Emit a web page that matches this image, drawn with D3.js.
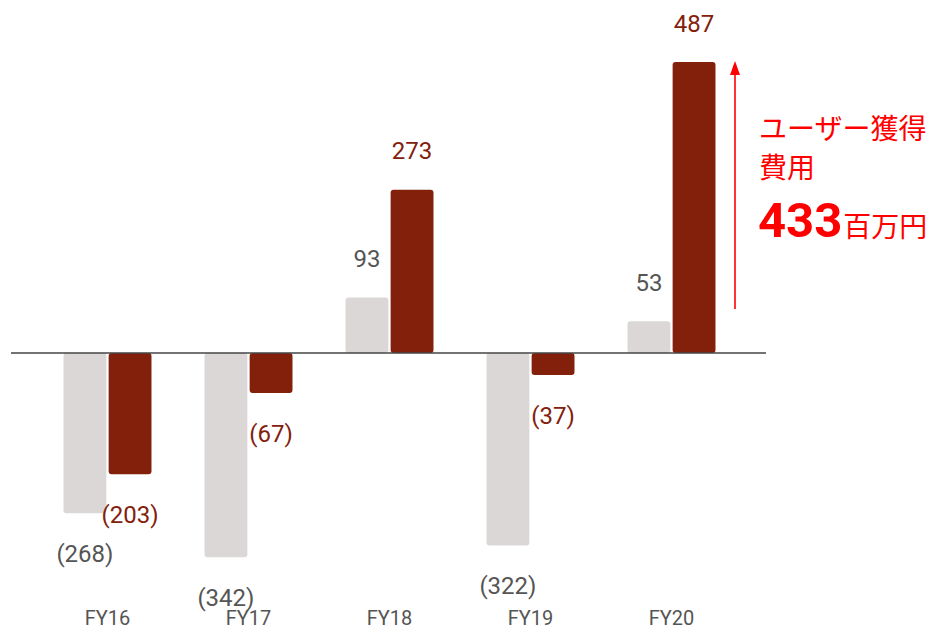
<!DOCTYPE html>
<html><head><meta charset="utf-8">
<script src="https://cdn.jsdelivr.net/npm/d3@7"></script>
<style>html,body{margin:0;padding:0;background:#fff;}</style>
</head><body>
<svg id="c" width="936" height="628"></svg>
<script>
const categories = ["FY16","FY17","FY18","FY19","FY20"];
const seriesGray = [-268,-342,93,-322,53];
const seriesRed = [-203,-67,273,-37,487];
const annotLine1 = "ユーザー獲得";
const annotLine2 = "費用";
const annotValue = "433";
const annotUnit = "百万円";

const svg = d3.select("#c");
const y = d3.scaleLinear().domain([0, 487]).range([353, 62]);
const x = d3.scaleBand().domain(categories).range([37, 742]).paddingInner(0.376).paddingOuter(0.188);
const xs = d3.scaleBand().domain(["g","r"]).range([0, x.bandwidth()]).paddingInner(0.05);

const fmt = v => v < 0 ? "(" + Math.abs(v) + ")" : String(v);
const series = [
  {key:"g", vals: seriesGray, fill:"#dcd7d7", text:"#555555"},
  {key:"r", vals: seriesRed, fill:"#83200c", text:"#83200c"}
];

series.forEach(s => {
  const g = svg.append("g");
  g.selectAll("rect").data(categories).join("rect")
    .attr("x", (c) => x(c) + xs(s.key))
    .attr("width", xs.bandwidth())
    .attr("y", (c,i) => Math.min(y(s.vals[i]), y(0)))
    .attr("height", (c,i) => Math.abs(y(s.vals[i]) - y(0)))
    .attr("rx", 3).attr("fill", s.fill);
  g.selectAll("text").data(categories).join("text")
    .attr("x", (c) => x(c) + xs(s.key) + xs.bandwidth()/2)
    .attr("y", (c,i) => s.vals[i] >= 0 ? y(s.vals[i]) - 39 + 8.5 : y(s.vals[i]) + 40 + 8.5)
    .attr("text-anchor","middle")
    .attr("font-family","Roboto, sans-serif")
    .attr("font-size", 24)
    .attr("fill", s.text)
    .text((c,i) => fmt(s.vals[i]));
});

// baseline
svg.append("line").attr("x1", 11).attr("x2", 766).attr("y1", y(0)).attr("y2", y(0))
  .attr("stroke", "#444").attr("stroke-width", 1.3);

// category labels
const xAxis = d3.axisBottom(x).tickSize(0).tickPadding(0);
const ax = svg.append("g").attr("transform", "translate(0,608)").call(xAxis);
ax.select(".domain").remove();
ax.selectAll("text").attr("font-family","Roboto, sans-serif").attr("font-size",20)
  .attr("fill","#555").attr("dy","0.85em");

// arrow
const ax0 = 735;
svg.append("line").attr("x1", ax0).attr("x2", ax0).attr("y1", 309).attr("y2", 72)
  .attr("stroke", "#ff0000").attr("stroke-width", 1.6);
svg.append("path").attr("d", `M${ax0},61 L${ax0-5},75 L${ax0+5},75 Z`).attr("fill","#ff0000");

const jp = "'Noto Sans CJK JP', 'Noto Sans', sans-serif";
svg.append("text").attr("x", 759).attr("y", 139).attr("font-family", jp).attr("font-size", 28)
  .attr("fill", "#ff0000").text(annotLine1);
svg.append("text").attr("x", 759).attr("y", 178).attr("font-family", jp).attr("font-size", 28)
  .attr("fill", "#ff0000").text(annotLine2);
const t = svg.append("text").attr("x", 758).attr("y", 237).attr("fill", "#ff0000");
t.append("tspan").attr("font-family","Roboto, Arial, sans-serif").attr("font-weight","bold")
  .attr("font-size", 49).text(annotValue);
t.append("tspan").attr("font-family", jp).attr("font-size", 28).attr("dx", 1).text(annotUnit);
</script>
</body></html>
